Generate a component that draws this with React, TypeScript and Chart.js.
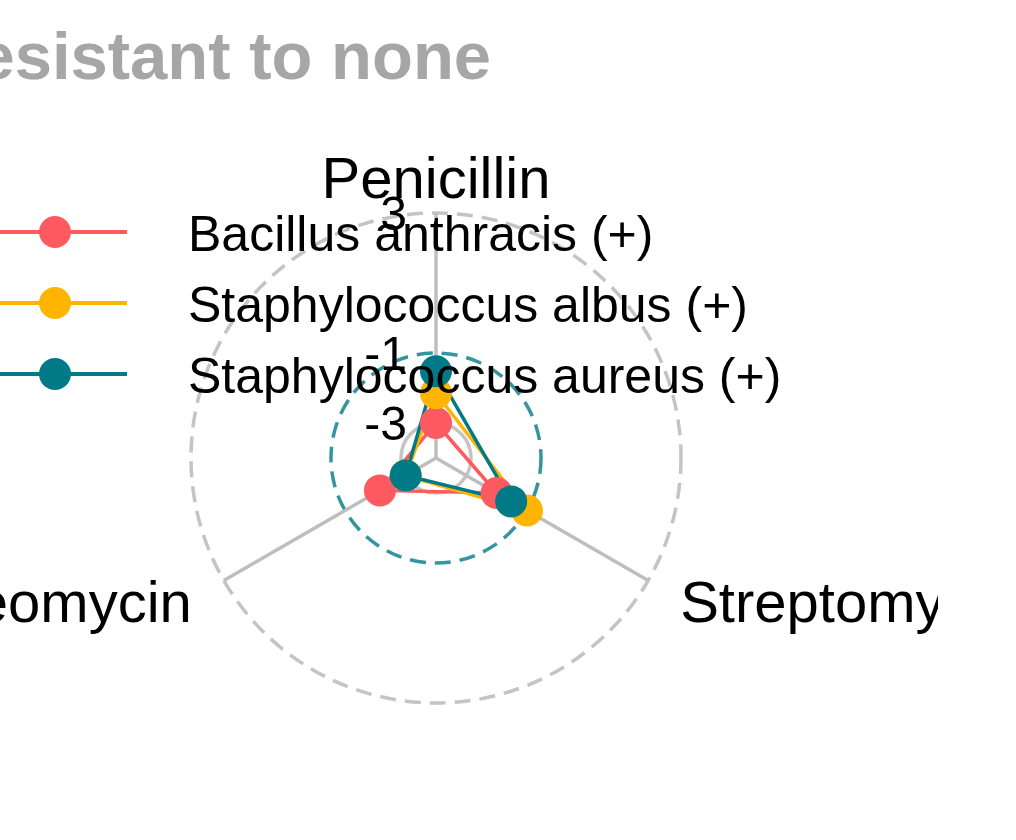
import React, { useEffect, useRef } from "react";
import { Chart, registerables } from "chart.js";

Chart.register(...registerables);

const categories = ["Penicillin", "Streptomycin", "Neomycin"];
const seriesNames = ["Bacillus anthracis (+)", "Staphylococcus albus (+)", "Staphylococcus aureus (+)"];
const bacillusValues = [-3, -2, -2.15];
const albusValues = [-2.15, -1, -3];
const aureusValues = [-1.52, -1.52, -3];
const seriesColors = ["#FF5A5F", "#FFB400", "#007A87"];
const tickValues = [-3, -1, 3];
const tickLabels = ["-3", "-1", "3"];
const axisMin = -4;
const axisMax = 3;
const titleText = "Resistant to none";

const FONT = '"Liberation Sans", Arial, Helvetica, sans-serif';
const CANVAS_W = 1200;
const CANVAS_H = 840;
const SHIFT = 200; // canvas is shifted left by this many px

const overlayPlugin = {
  id: "overlay",
  afterDraw(chart: any) {
    const ctx = chart.ctx as CanvasRenderingContext2D;
    const s = chart.scales.r;
    const R = s.drawingArea;
    ctx.save();

    // tick labels
    ctx.fillStyle = "#000000";
    ctx.font = `48px ${FONT}`;
    ctx.textAlign = "right";
    ctx.textBaseline = "alphabetic";
    tickValues.forEach((v, i) => {
      const y = s.yCenter - s.getDistanceFromCenterForValue(v);
      ctx.fillText(tickLabels[i], s.xCenter - 29, y + 17);
    });

    // point labels
    ctx.font = `58px ${FONT}`;
    categories.forEach((c, i) => {
      const p = s.getPointPosition(i, R);
      if (Math.abs(p.x - s.xCenter) < 5) {
        ctx.textAlign = "center";
        ctx.fillText(c, p.x, p.y - 15);
      } else if (p.x > s.xCenter) {
        ctx.textAlign = "left";
        ctx.fillText(c, p.x + 32, p.y + 41);
      } else {
        ctx.textAlign = "right";
        ctx.fillText(c, p.x - 32, p.y + 41);
      }
    });

    // title
    ctx.textAlign = "left";
    ctx.fillStyle = "#A6A6A6";
    ctx.font = `bold 67px ${FONT}`;
    ctx.fillText(titleText, SHIFT - 71, 79);

    // legend
    const rowsY = [232, 303, 374];
    seriesNames.forEach((name, i) => {
      const y = rowsY[i];
      ctx.strokeStyle = seriesColors[i];
      ctx.lineWidth = 4;
      ctx.beginPath();
      ctx.moveTo(SHIFT - 20, y);
      ctx.lineTo(SHIFT + 127, y);
      ctx.stroke();
      ctx.fillStyle = seriesColors[i];
      ctx.beginPath();
      ctx.arc(SHIFT + 55, y, 16, 0, Math.PI * 2);
      ctx.fill();
      ctx.fillStyle = "#000000";
      ctx.font = `50px ${FONT}`;
      ctx.textAlign = "left";
      ctx.fillText(name, SHIFT + 188, y + 19);
    });

    ctx.restore();
  },
};

export default function App() {
  const ref = useRef<HTMLCanvasElement | null>(null);

  useEffect(() => {
    if (!ref.current) return;
    const seriesData = [bacillusValues, albusValues, aureusValues];
    const lineSets = seriesData.map((d, i) => ({
      label: seriesNames[i],
      data: d,
      borderColor: seriesColors[i],
      backgroundColor: seriesColors[i],
      borderWidth: 3.5,
      fill: false,
      tension: 0,
      pointRadius: 0,
      pointHoverRadius: 0,
      order: 5 - i,
    }));
    const pointSets = seriesData.map((d, i) => ({
      label: seriesNames[i] + " points",
      data: d,
      borderColor: "rgba(0,0,0,0)",
      backgroundColor: seriesColors[i],
      borderWidth: 0,
      showLine: false,
      fill: false,
      pointRadius: 16,
      pointHoverRadius: 16,
      pointBorderWidth: 0,
      pointBackgroundColor: seriesColors[i],
      order: 2 - i,
    }));

    const chart = new Chart(ref.current, {
      type: "radar",
      data: { labels: categories, datasets: [...lineSets, ...pointSets] as any },
      options: {
        responsive: false,
        animation: false,
        events: [],
        layout: { padding: { left: 391, right: CANVAS_W - 881, top: 213, bottom: CANVAS_H - 703 } },
        plugins: { legend: { display: false }, title: { display: false }, tooltip: { enabled: false } },
        scales: {
          r: {
            min: axisMin,
            max: axisMax,
            afterBuildTicks: (sc: any) => {
              sc.ticks = tickValues.map((v) => ({ value: v }));
            },
            ticks: { display: false },
            pointLabels: { display: false },
            grid: {
              circular: true,
              lineWidth: 3.5,
              color: (c: any) => {
                const v = c.tick ? c.tick.value : 0;
                if (v === -1) return "rgba(0,122,135,0.8)";
                return "#C4C4C4";
              },
            },
            border: {
              dash: (c: any) => {
                const v = c.tick ? c.tick.value : 0;
                if (v === -3) return [];
                return [16, 9];
              },
            },
            angleLines: { color: "#BEBEBE", lineWidth: 3.5 },
          } as any,
        },
      },
      plugins: [overlayPlugin],
    });
    return () => chart.destroy();
  }, []);

  return (
    <div style={{ position: "absolute", left: 0, top: 0, width: 938, height: 840, overflow: "hidden", background: "#ffffff" }}>
      <canvas
        ref={ref}
        width={CANVAS_W}
        height={CANVAS_H}
        style={{ position: "absolute", left: -SHIFT, top: 0, width: CANVAS_W, height: CANVAS_H }}
      />
    </div>
  );
}
